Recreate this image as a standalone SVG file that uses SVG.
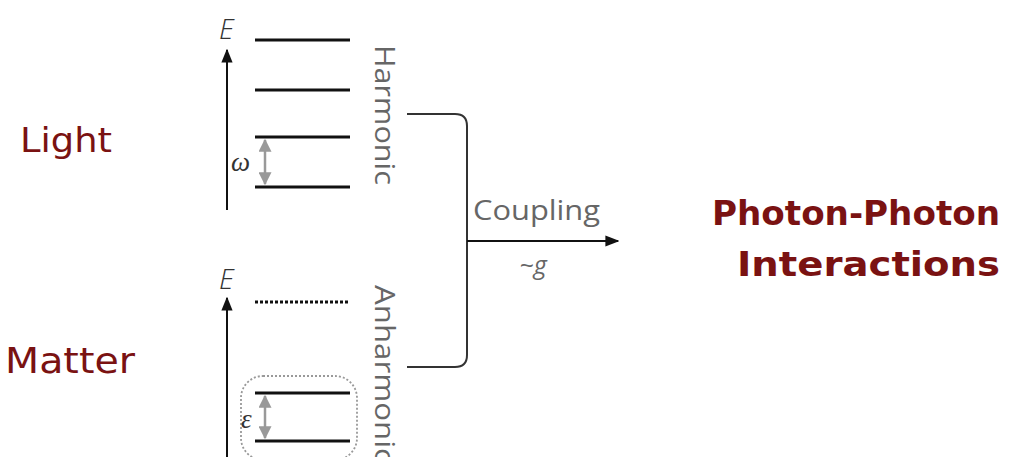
<svg xmlns="http://www.w3.org/2000/svg" width="1033" height="457" viewBox="0 0 1033 457">
<defs>
<marker id="ahb" viewBox="0 0 10 10" refX="9" refY="5" markerWidth="14" markerHeight="14" orient="auto-start-reverse" markerUnits="userSpaceOnUse"><path d="M0,1 L10,5 L0,9 z" fill="#111"/></marker>
<marker id="ag" viewBox="0 0 10 10" refX="9" refY="5" markerWidth="13" markerHeight="13" orient="auto-start-reverse" markerUnits="userSpaceOnUse"><path d="M0,0 L10,5 L0,10 z" fill="#999"/></marker>
</defs>
<style>
.lvl{stroke:#111;stroke-width:3}
.axis{stroke:#111;stroke-width:2;fill:none}
.gap{stroke:#999;stroke-width:2.5}
.red{fill:#7a1212;font-family:"Comic Sans MS","DejaVu Sans",sans-serif}
.gray{fill:#666;font-family:"Open Sans","DejaVu Sans",sans-serif}
.sym{fill:#333;font-family:"Liberation Serif",serif;font-style:italic}
.E{fill:#333;font-family:"Open Sans","DejaVu Sans",sans-serif;font-style:italic;font-weight:300}
</style>
<rect width="1033" height="457" fill="#fff"/>
<g id="light-label"><text class="red" x="20" y="152" font-size="34" textLength="92" lengthAdjust="spacingAndGlyphs">Light</text></g>
<g id="matter-label"><text class="red" x="5" y="373" font-size="36" textLength="130" lengthAdjust="spacingAndGlyphs">Matter</text></g>
<g id="harmonic">
<line class="axis" x1="227" y1="210" x2="227" y2="50" marker-end="url(#ahb)"/>
<text class="E" x="219" y="39" font-size="28">E</text>
<line class="lvl" x1="255" y1="40" x2="350" y2="40"/>
<line class="lvl" x1="255" y1="90" x2="350" y2="90"/>
<line class="lvl" x1="255" y1="137" x2="350" y2="137"/>
<line class="lvl" x1="255" y1="187" x2="350" y2="187"/>
<line class="gap" x1="265" y1="140" x2="265" y2="184" marker-start="url(#ag)" marker-end="url(#ag)"/>
<text class="sym" x="231" y="171" font-size="27">ω</text>
<text class="gray" font-size="28" transform="translate(375,45) rotate(90)" textLength="140" lengthAdjust="spacingAndGlyphs">Harmonic</text>
</g>
<g id="anharmonic">
<line class="axis" x1="227" y1="460" x2="227" y2="298" marker-end="url(#ahb)"/>
<text class="E" x="219" y="289" font-size="28">E</text>
<line x1="255" y1="302" x2="350" y2="302" stroke="#111" stroke-width="3" stroke-dasharray="3,2"/>
<rect x="241" y="376" width="116" height="84" rx="22" fill="none" stroke="#999" stroke-width="1.8" stroke-dasharray="2,2"/>
<line class="lvl" x1="255" y1="393" x2="350" y2="393"/>
<line class="lvl" x1="255" y1="441" x2="350" y2="441"/>
<line class="gap" x1="265" y1="396" x2="265" y2="438" marker-start="url(#ag)" marker-end="url(#ag)"/>
<text class="sym" x="241" y="428" font-size="27">ε</text>
<text class="gray" font-size="28" transform="translate(375,285) rotate(90)" textLength="178" lengthAdjust="spacingAndGlyphs">Anharmonic</text>
</g>
<g id="connectors">
<path d="M407,114 H455 Q467,114 467,126 V355 Q467,367 455,367 H407" fill="none" stroke="#333" stroke-width="2"/>
<line x1="467" y1="241" x2="618" y2="241" stroke="#111" stroke-width="2" marker-end="url(#ahb)"/>
</g>
<g id="coupling"><text class="gray" x="473" y="220" font-size="28" textLength="127" lengthAdjust="spacingAndGlyphs">Coupling</text>
<text class="gray" x="533" y="274" font-size="25" text-anchor="middle" font-style="italic">~g</text></g>
<g id="result">
<text class="red" x="712" y="225" font-size="34" font-weight="bold" textLength="288" lengthAdjust="spacingAndGlyphs">Photon-Photon</text>
<text class="red" x="737" y="276" font-size="34" font-weight="bold" textLength="263" lengthAdjust="spacingAndGlyphs">Interactions</text>
</g>
</svg>
